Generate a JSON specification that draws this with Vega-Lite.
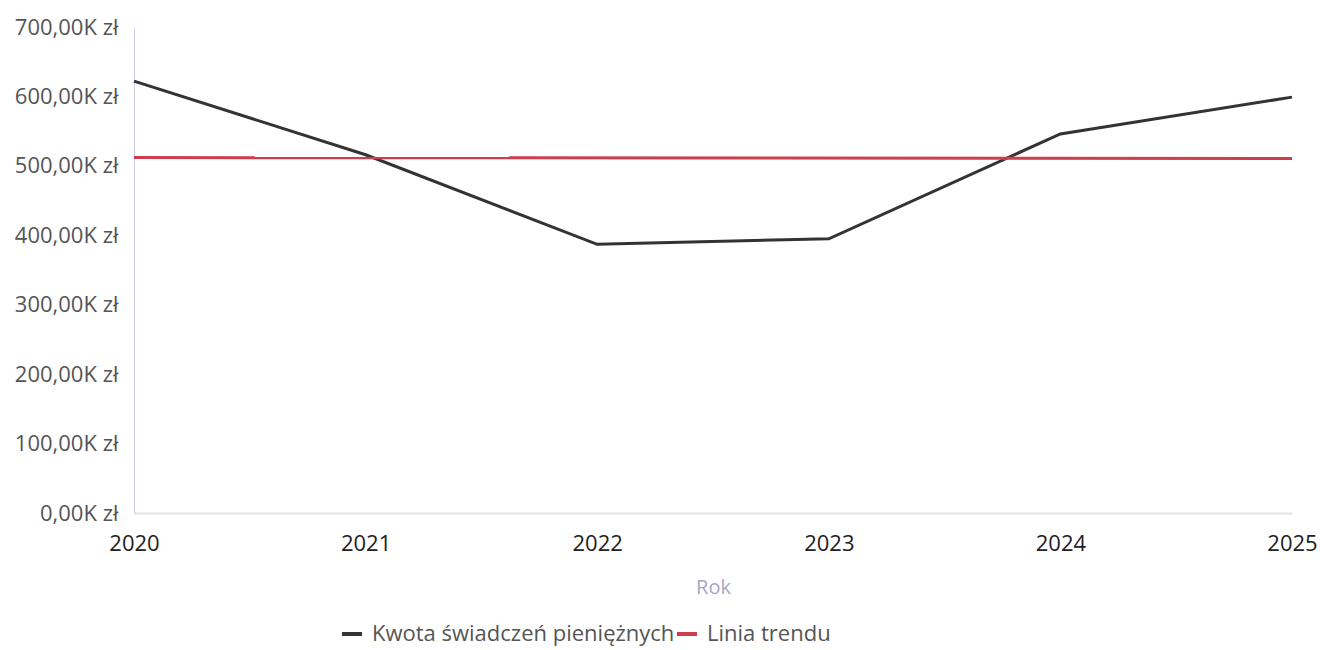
{
  "$schema": "https://vega.github.io/schema/vega-lite/v6.json",
  "autosize": "none",
  "width": 1158,
  "height": 486,
  "padding": {"left": 134, "top": 27, "right": 28, "bottom": 137},
  "background": "white",
  "config": {
    "font": "Open Sans",
    "view": {"stroke": null}
  },
  "data": {
    "values": [
      {"Rok": "2020", "seria": "Kwota świadczeń pieniężnych", "kwota": 622000},
      {"Rok": "2021", "seria": "Kwota świadczeń pieniężnych", "kwota": 516000},
      {"Rok": "2022", "seria": "Kwota świadczeń pieniężnych", "kwota": 387000},
      {"Rok": "2023", "seria": "Kwota świadczeń pieniężnych", "kwota": 395000},
      {"Rok": "2024", "seria": "Kwota świadczeń pieniężnych", "kwota": 546000},
      {"Rok": "2025", "seria": "Kwota świadczeń pieniężnych", "kwota": 599000},
      {"Rok": "2020", "seria": "Linia trendu", "kwota": 512000},
      {"Rok": "2025", "seria": "Linia trendu", "kwota": 510500}
    ]
  },
  "mark": {"type": "line", "strokeWidth": 3},
  "encoding": {
    "x": {
      "field": "Rok",
      "type": "ordinal",
      "scale": {"type": "point", "padding": 0},
      "axis": {
        "title": "Rok",
        "titleColor": "#a9a5c6",
        "titleFontSize": 20,
        "titleFontWeight": "normal",
        "titlePadding": 23,
        "labelAngle": 0,
        "labelColor": "#222222",
        "labelFontSize": 22,
        "labelPadding": 20,
        "ticks": false,
        "grid": false,
        "domainColor": "#e2e2e2",
        "domainWidth": 2
      }
    },
    "y": {
      "field": "kwota",
      "type": "quantitative",
      "scale": {"domain": [0, 700000], "nice": false},
      "axis": {
        "title": null,
        "values": [0, 100000, 200000, 300000, 400000, 500000, 600000, 700000],
        "labelExpr": "replace(format(datum.value / 1000, '.2f'), '.', ',') + 'K zł'",
        "labelColor": "#555555",
        "labelFontSize": 22,
        "labelPadding": 16,
        "ticks": false,
        "grid": false,
        "domainColor": "#cdccec",
        "domainWidth": 1
      }
    },
    "color": {
      "field": "seria",
      "type": "nominal",
      "scale": {
        "domain": ["Kwota świadczeń pieniężnych", "Linia trendu"],
        "range": ["#333333", "#cc3d4d"]
      },
      "legend": {
        "title": null,
        "orient": "none",
        "direction": "horizontal",
        "legendX": 206,
        "legendY": 595,
        "symbolType": "stroke",
        "symbolStrokeWidth": 4,
        "symbolSize": 400,
        "labelFontSize": 22,
        "labelColor": "#555555",
        "labelOffset": 8,
        "labelLimit": 600,
        "columnPadding": -14
      }
    }
  }
}
